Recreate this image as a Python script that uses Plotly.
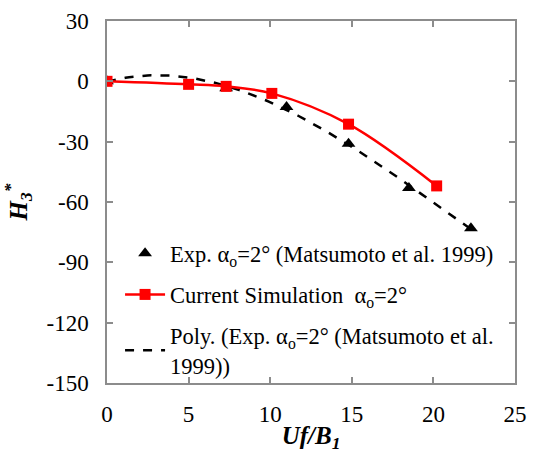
import numpy as np
import plotly.graph_objects as go

# Experimental data (Matsumoto et al. 1999)
exp_x = [0.0, 7.3, 11.0, 14.8, 18.5, 22.3]
exp_y = [0.0, -3.5, -12.8, -31.0, -53.0, -73.0]

# Current simulation
sim_x = [0.0, 5.0, 7.3, 10.1, 14.8, 20.2]
sim_y = [0.0, -1.5, -2.5, -6.0, -21.3, -52.0]

x_ticks = [0, 5, 10, 15, 20, 25]
y_ticks = [-150, -120, -90, -60, -30, 0, 30]

# Polynomial trendline of experimental data
coef = np.polyfit(exp_x, exp_y, 3)
poly_x = np.linspace(0, max(exp_x), 100)
poly_y = np.polyval(coef, poly_x)

font_family = "Liberation Serif, Times New Roman, serif"

fig = go.Figure()
fig.add_trace(go.Scatter(
    x=poly_x, y=poly_y, mode="lines",
    line=dict(color="black", width=2.5, dash="dash"),
    showlegend=False, hoverinfo="skip"))
fig.add_trace(go.Scatter(
    x=exp_x, y=exp_y, mode="markers",
    marker=dict(symbol="triangle-up", color="black", size=12),
    name="Exp. α<sub>o</sub>=2° (Matsumoto et al. 1999)", legendgroup="a"))
fig.add_trace(go.Scatter(
    x=sim_x, y=sim_y, mode="lines+markers",
    line=dict(color="#ff0000", width=2.5, shape="spline"),
    marker=dict(symbol="square", color="#ff0000", size=11),
    name="Current Simulation  α<sub>o</sub>=2°", legendgroup="b"))
fig.add_trace(go.Scatter(
    x=[None], y=[None], mode="lines",
    line=dict(color="black", width=2.5, dash="dash"),
    name="Poly. (Exp. α<sub>o</sub>=2° (Matsumoto et al.<br>1999))", legendgroup="c"))

axis_common = dict(
    showline=True, linecolor="#8c8c8c", linewidth=1.5, mirror="ticks",
    ticks="inside", ticklen=6, tickcolor="#8c8c8c", tickwidth=1.5,
    showgrid=False, zeroline=False, automargin=False,
    tickfont=dict(family=font_family, size=23, color="black"),
)

fig.update_layout(
    width=537, height=453,
    margin=dict(l=107, r=22, t=21, b=70),
    paper_bgcolor="white", plot_bgcolor="white",
    font=dict(family=font_family, color="black"),
    xaxis=dict(range=[0, 25], tickvals=x_ticks, ticktext=[str(v) for v in x_ticks],
               ticklabelstandoff=10,
               title=dict(text="<b><i>Uf/B<sub>1</sub></i></b>",
                          font=dict(family=font_family, size=25), standoff=2),
               **axis_common),
    yaxis=dict(range=[-150, 30], tickvals=y_ticks, ticktext=[str(v) for v in y_ticks],
               ticklabelstandoff=12,
               title=dict(text="<b><i>H<sub>3</sub><sup>*</sup></i></b>",
                          font=dict(family=font_family, size=25), standoff=12),
               **axis_common),
    legend=dict(x=0.032, y=0.417, xanchor="left", yanchor="top",
                bgcolor="rgba(0,0,0,0)", font=dict(family=font_family, size=22.5),
                tracegroupgap=9, itemwidth=40),
    showlegend=True,
)

fig.write_html("out.html")
